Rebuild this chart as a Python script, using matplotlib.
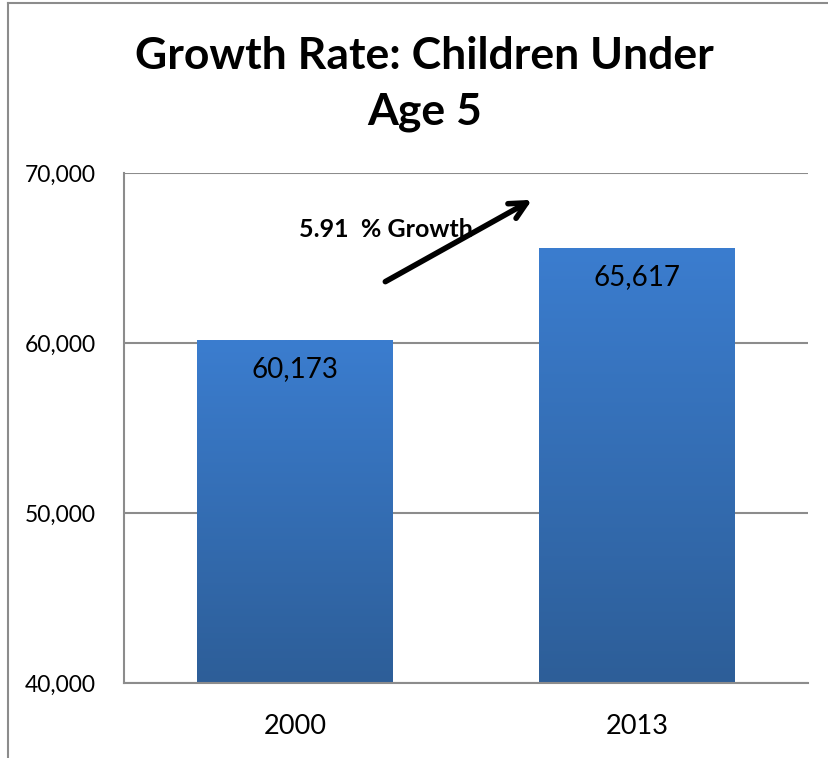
import numpy as np
import matplotlib
matplotlib.use('Agg')
import matplotlib.pyplot as plt
from matplotlib.colors import LinearSegmentedColormap
from matplotlib.ticker import FuncFormatter

plt.rcParams['font.family'] = ['Lato', 'DejaVu Sans']

# data
years = ['2000', '2013']
children = [60173, 65617]
growth_label = '5.91  % Growth'
title = 'Growth Rate: Children Under\nAge 5'

fig = plt.figure(figsize=(8.29, 7.58), dpi=100)
ax = fig.add_axes([124 / 829, 1 - 683 / 758, (808 - 124) / 829, (683 - 173) / 758])

x = np.arange(len(years))
bars = ax.bar(x, children, width=0.573, color='none', edgecolor='none', zorder=2)

# vertical gradient inside each bar, lighter at the top
cmap = LinearSegmentedColormap.from_list('excel_blue', ['#2d5e98', '#3b7dcf'])
grad = np.linspace(0, 1, 256).reshape(-1, 1)
for b in bars:
    x0, y0 = b.get_x(), 40000
    x1, y1 = b.get_x() + b.get_width(), b.get_height()
    im = ax.imshow(grad, cmap=cmap, origin='lower', aspect='auto',
                   extent=[x0, x1, y0, y1], zorder=2)
    im.set_clip_path(b)

for xi, v in zip(x, children):
    ax.annotate(f'{v:,}', xy=(xi, v), xytext=(0, -21), textcoords='offset points',
                ha='center', va='center', fontsize=20, color='black', zorder=3)

ax.set_xlim(-0.5, 1.5)
ax.set_ylim(40000, 70000)
ax.set_yticks([40000, 50000, 60000, 70000])
ax.yaxis.set_major_formatter(FuncFormatter(lambda v, p: f'{int(v):,}'))
ax.set_xticks(x)
ax.set_xticklabels(years)
ax.tick_params(axis='both', length=0)
ax.tick_params(axis='y', pad=20, labelsize=16.5)
ax.tick_params(axis='x', pad=22, labelsize=19.5)
ax.grid(axis='y', color='#8c8c8c', linewidth=1.5, zorder=0)
ax.set_axisbelow(True)
for s in ['top', 'right']:
    ax.spines[s].set_visible(False)
for s in ['left', 'bottom']:
    ax.spines[s].set_color('#8c8c8c')
    ax.spines[s].set_linewidth(1.5)

# growth arrow and label
ax.annotate('', xy=(0.70, 68500), xytext=(0.257, 63529),
            arrowprops=dict(arrowstyle='->', lw=4, color='black', mutation_scale=30), zorder=4)
ax.text(0.012, 66650, growth_label, fontsize=18, fontweight='bold', va='center', ha='left', zorder=3)

fig.text(0.512, 1 - 84 / 758, title, ha='center', va='center', fontsize=32,
         fontweight='bold', linespacing=1.45)

# chart area border (only the left and top edges are visible in the crop)
fig.add_artist(plt.Line2D([8 / 829, 8 / 829], [0, 1 - 3 / 758], transform=fig.transFigure,
                          color='#8c8c8c', lw=1.5))
fig.add_artist(plt.Line2D([8 / 829, 1], [1 - 3 / 758, 1 - 3 / 758], transform=fig.transFigure,
                          color='#8c8c8c', lw=1.5))

plt.savefig('out.png', dpi=100)
